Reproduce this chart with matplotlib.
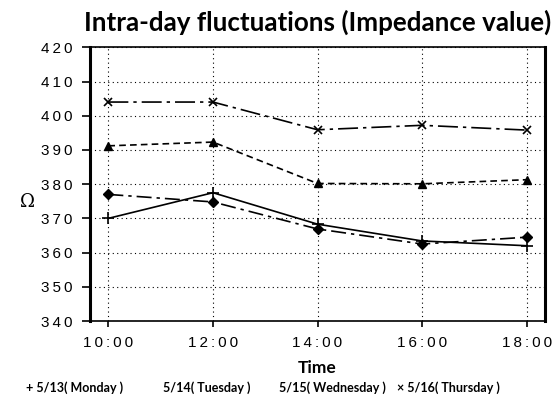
import matplotlib
matplotlib.use("Agg")
import matplotlib.pyplot as plt

# Impedance readings through the day, one series per weekday
times = ["10:00", "12:00", "14:00", "16:00", "18:00"]
monday = [370, 377.5, 368.3, 363.4, 362]
tuesday = [391.2, 392.3, 380.2, 380.1, 381.3]
wednesday = [377, 374.8, 366.9, 362.5, 364.5]
thursday = [404, 404, 395.9, 397.2, 395.8]
yticks = [340, 350, 360, 370, 380, 390, 400, 410, 420]
legend_labels = ["+ 5/13( Monday )", "5/14( Tuesday )",
                 "5/15( Wednesday )", "\u00d7 5/16( Thursday )"]

TS = "\u2009"  # thin space for letter-spaced tick labels


def spaced(s):
    return TS.join(list(s))


fig = plt.figure(figsize=(5.54, 4.05), dpi=100)
ax = fig.add_axes([0.1616, 0.2074, 0.8222, 0.6758])

x = list(range(len(times)))
ax.plot(x, monday, color="black", lw=1.2, ls="-", marker="+", ms=9, mew=1.2)
ax.plot(x, tuesday, color="black", lw=1.2, ls=(0, (4, 2.5)), marker="^", ms=6)
ax.plot(x, wednesday, color="black", lw=1.2, ls=(0, (9, 3, 2, 3)), marker="D", ms=5)
ax.plot(x, thursday, color="black", lw=1.2, ls=(0, (12, 3, 2, 3)), marker="x", ms=6, mew=1.2)

ax.set_xlim(-0.18, 4.175)
ax.set_ylim(340, 420)
ax.set_xticks(x)
ax.set_xticklabels([spaced(t) for t in times], family="Liberation Sans", fontsize=11)
ax.set_yticks(yticks)
ax.set_yticklabels([spaced(str(v)) for v in yticks], family="Liberation Sans", fontsize=11)
ax.tick_params(axis="y", length=6, width=1.2, pad=6)
ax.tick_params(axis="x", length=4, width=1.2, pad=7)

ax.grid(True, color="black", ls=(0, (1, 3)), lw=0.8)
for side in ("left", "right"):
    ax.spines[side].set_linewidth(2.2)
for side in ("top", "bottom"):
    ax.spines[side].set_linewidth(1.2)

fig.text(0.573, 0.945, "Intra-day fluctuations (Impedance value)",
         family="Lato", weight="bold", fontsize=18.7, ha="center", va="center")
fig.text(0.573, 0.0914, "Time", family="Lato", weight="bold", fontsize=12.5,
         ha="center", va="center")
fig.text(0.049, 0.502, "\u03a9", family="DejaVu Serif", fontsize=13,
         ha="center", va="center")

legend_x = [26, 163, 279, 397]
for lx, lab in zip(legend_x, legend_labels):
    fig.text(lx / 554, 0.042, lab, family="Lato", weight="bold", fontsize=9,
             ha="left", va="center")

fig.savefig("out.png", dpi=100)
